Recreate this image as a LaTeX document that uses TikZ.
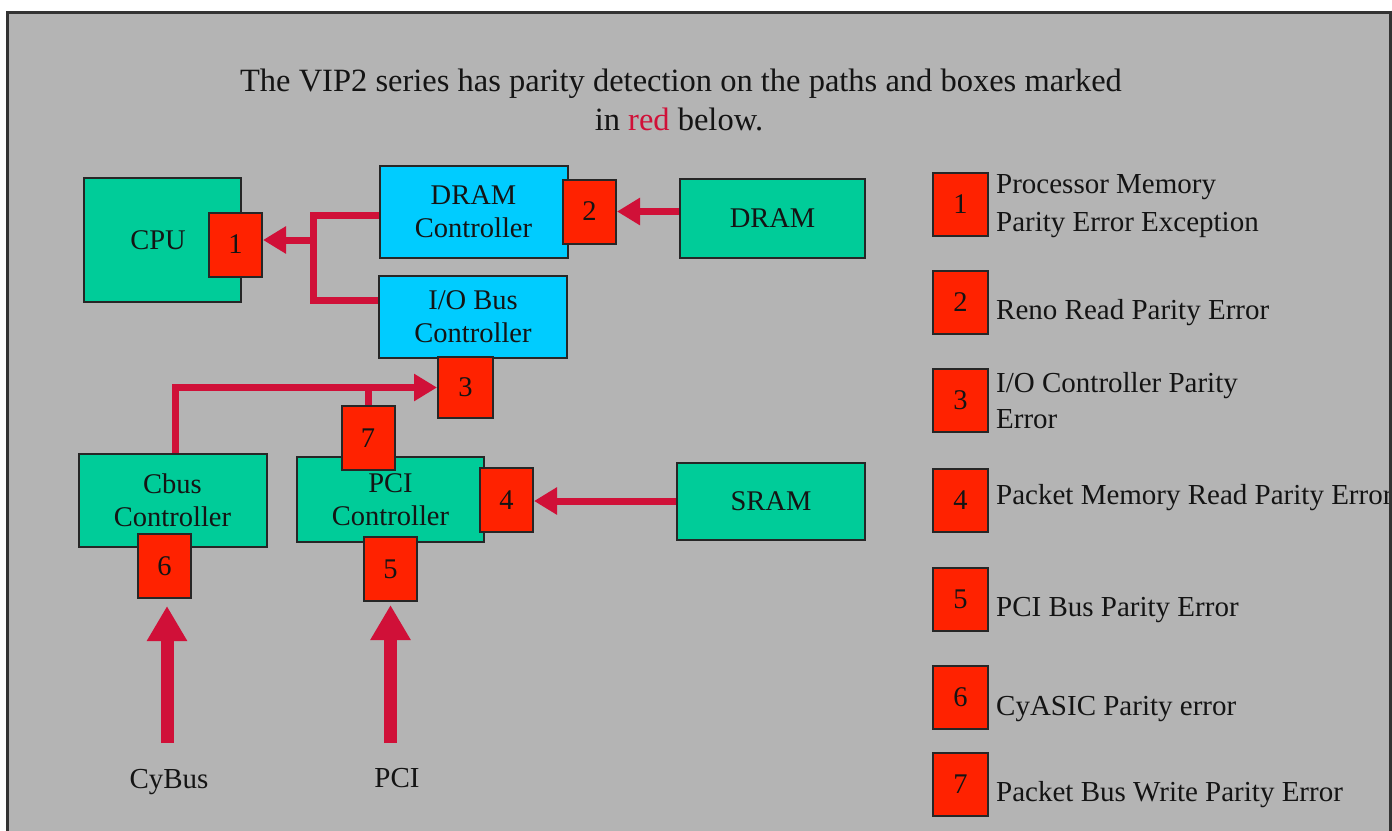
\documentclass[tikz,border=0pt]{standalone}
\usepackage{fontspec}
\setmainfont{Liberation Serif}
\usetikzlibrary{arrows.meta}
\definecolor{bg}{RGB}{180,180,180}
\definecolor{boxgreen}{RGB}{0,204,153}
\definecolor{boxcyan}{RGB}{0,204,255}
\definecolor{boxred}{RGB}{255,34,0}
\definecolor{linered}{RGB}{208,16,56}
\definecolor{txt}{RGB}{20,20,20}
\begin{document}
\begin{tikzpicture}[x=1pt,y=-1pt,
  comp/.style={draw=black!85, line width=2pt, inner sep=0pt, align=center, text=txt, font=\fontsize{28.5}{33}\selectfont},
  greenbox/.style={comp, fill=boxgreen},
  cyanbox/.style={comp, fill=boxcyan},
  errbox/.style={draw=black!85, line width=2pt, fill=boxred, inner sep=0pt, minimum width=53pt, minimum height=64pt, font=\fontsize{28.5}{33}\selectfont, text=txt},
  redline/.style={draw=linered, line width=7pt},
  redarrow/.style={redline, -{Triangle[length=23pt,width=26pt]}},
  bigarrow/.style={draw=linered, line width=13pt, -{Triangle[length=35pt,width=38pt]}},
  lbl/.style={inner sep=0pt, anchor=base west, text=txt, font=\fontsize{29}{33}\selectfont},
  ttl/.style={inner sep=0pt, anchor=base, text=txt, font=\fontsize{32.5}{38}\selectfont},
]
\useasboundingbox (0,0) rectangle (1392,830);
\fill[white] (0,0) rectangle (1392,830);
\filldraw[fill=bg, draw=black!80, line width=3pt] (7,12) rectangle (1390,840);

% title
\node[ttl] (t1) at (681,91) {The VIP2 series has parity detection on the paths and boxes marked};
\node[ttl] (t2) at (679,130) {in \textcolor{linered}{red} below.};

% components
\node[greenbox, minimum width=157pt, minimum height=124pt] (cpu) at (162.5,240) {\hspace*{-9pt}CPU};
\node[errbox] (r1) at (235.5,244.5) {1};
\node[cyanbox, minimum width=188pt, minimum height=92pt] (dramc) at (473.5,211.5) {DRAM\\Controller};
\node[errbox] (r2) at (589.5,211.5) {2};
\node[greenbox, minimum width=185pt, minimum height=79pt] (dram) at (772.5,218.5) {DRAM};
\node[cyanbox, minimum width=188pt, minimum height=82pt] (iobc) at (473,317) {I/O Bus\\Controller};
\node[errbox, minimum width=55pt, minimum height=61pt] (r3) at (465.5,387.5) {3};
\node[greenbox, minimum width=188pt, minimum height=93pt] (cbus) at (172.5,500.5) {Cbus\\Controller};
\node[greenbox, minimum width=187pt, minimum height=85pt] (pcic) at (390.5,499.5) {PCI\\Controller};
\node[errbox] (r4) at (506.5,500) {4};
\node[errbox] (r7) at (368,438) {7};
\node[greenbox, minimum width=188pt, minimum height=77pt] (sram) at (771,501) {SRAM};
\node[errbox] (r6) at (164.5,566) {6};
\node[errbox] (r5) at (390.5,569) {5};

% connectors
\coordinate (j1) at (313,240);
\draw[redline] ([yshift=-3.5pt]dramc.west) -| (j1) |- ([yshift=17pt]iobc.west);
\draw[redarrow] (j1) -- (r1.east |- j1);
\draw[redarrow] (dram.west |- r2.east) -- (r2.east);
\coordinate (j2) at (r7.north |- r3.west);
\draw[redarrow] ([xshift=2.5pt]cbus.north) |- (r3.west);
\draw[redline] (r7.north) -- (j2);
\draw[redarrow] (sram.west) -- (r4.east |- sram.west);

% bus inputs
\coordinate (cyb) at (167,743);
\coordinate (pcib) at (390.5,743);
\draw[bigarrow, shorten >=7pt] (cyb) -- (cyb |- r6.south);
\draw[bigarrow, shorten >=3pt] (pcib) -- (r5.south);
\node[lbl, anchor=base] (cybus) at (169,788) {CyBus};
\node[lbl, anchor=base] (pcil) at (397,787) {PCI};

% legend
\foreach \i/\y in {1/204.5, 2/302.5, 3/400.5, 4/500, 5/599.5, 6/697.5, 7/784}
  \node[errbox, minimum width=55pt, minimum height=63pt] (k\i) at (960.5,\y) {\i};
\node[lbl] (d1a) at (996,193) {Processor Memory};
\node[lbl] (d1b) at (996,231) {Parity Error Exception};
\node[lbl] (d2) at (996,319) {Reno Read Parity Error};
\node[lbl] (d3a) at (996,392) {I/O Controller Parity};
\node[lbl] (d3b) at (996,428) {Error};
\node[lbl] (d4) at (996,504) {Packet Memory Read Parity Error};
\node[lbl] (d5) at (996,616) {PCI Bus Parity Error};
\node[lbl] (d6) at (996,715) {CyASIC Parity error};
\node[lbl] (d7) at (996,801) {Packet Bus Write Parity Error};

\draw[black!80, line width=3pt] (1390,10.5) -- (1390,840);
\end{tikzpicture}
\end{document}
